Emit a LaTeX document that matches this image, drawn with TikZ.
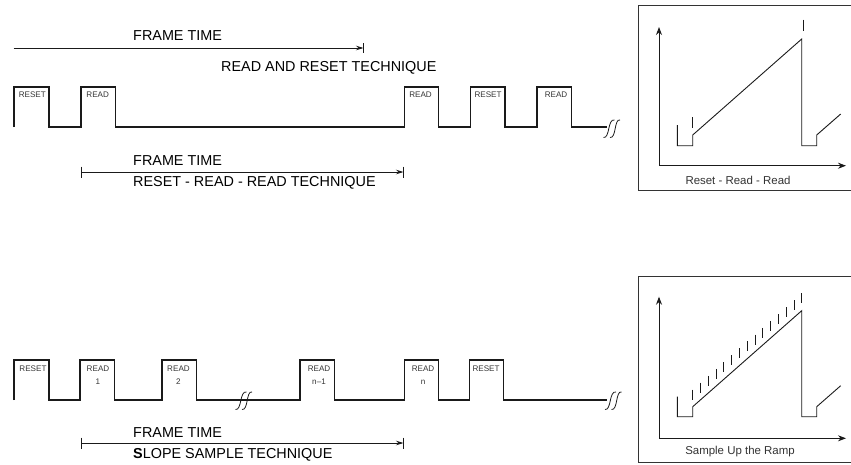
\documentclass[tikz,border=0pt]{standalone}
\usepackage{fontspec}
\setmainfont{Liberation Sans}
\usepackage{tikz}
\usetikzlibrary{arrows.meta,positioning,calc}
\definecolor{Wave}{HTML}{1A1A1A}
\definecolor{Frame}{HTML}{333333}
\tikzset{
  wave/.style={draw=Wave,line width=1.2pt,line join=miter},
  ramp/.style={draw=Wave,line width=0.9pt},
  tick/.style={draw=Wave,line width=0.9pt},
  span/.style={-{Stealth[length=7.5pt,width=4.5pt]},draw=Wave,line width=0.9pt},
  axis/.style={-{Stealth[length=8pt,width=6pt]},draw=Wave,line width=0.9pt},
  panel/.style={draw=Frame,line width=0.9pt},
  title/.style={font=\fontsize{14.4}{15}\selectfont,inner sep=0pt,anchor=west},
  pulse/.style={font=\fontsize{8.1}{9}\selectfont,text=Frame,inner sep=0pt},
  caption/.style={font=\fontsize{11.45}{13}\selectfont,text=Frame,inner sep=0pt}
}
\newcommand{\breakmark}[2]{
  \draw[tick,line width=0.8pt] (#1-7.5,#2+9) .. controls (#1-1,#2+10) and (#1-3.5,#2-10) .. (#1+3.5,#2-8.5);
  \draw[tick,line width=0.8pt] (#1-1,#2+9) .. controls (#1+5.5,#2+10) and (#1+3,#2-10) .. (#1+9,#2-8.5);
}
\begin{document}
\begin{tikzpicture}[x=1pt,y=-1pt]
  \useasboundingbox (0,0) rectangle (851,464);
  % top waveform
  \draw[wave] (14,127) |- (49,87) |- (81,127) |- (115.5,87) |- (404.5,127) |- (438.5,87) |- (470.5,127) |- (505,87) |- (537,127) |- (571.5,87) |- (606.5,127);
  \breakmark{611}{128.5}
  \node[pulse] (reseta) at (32.3,95) {RESET};
  \node[pulse] (reada) at (97.7,95) {READ};
  \node[pulse] (readb) at (420.5,95) {READ};
  \node[pulse] (resetb) at (488,95) {RESET};
  \node[pulse] (readc) at (556,95) {READ};
  % frame time arrows, top
  \coordinate (fa) at (13.5,48);
  \coordinate (fb) at (363.5,48);
  \draw[span] (fa) -- (fb);
  \draw[tick] ($(fb)+(0,-5)$) -- ($(fb)+(0,5)$);
  \node[title] (framea) at (133,35.5) {FRAME TIME};
  \node[title] (techa) at (221,68) {READ AND RESET TECHNIQUE};
  \coordinate (fc) at (81.5,172);
  \coordinate (fd) at (403.5,172);
  \draw[span] (fc) -- (fd);
  \draw[tick] ($(fc)+(0,-5.5)$) -- ($(fc)+(0,5.5)$);
  \draw[tick] ($(fd)+(0,-5.5)$) -- ($(fd)+(0,5.5)$);
  \node[title] (frameb) at (133,161) {FRAME TIME};
  \node[title] (techb) at (133,183) {RESET - READ - READ TECHNIQUE};
  % bottom waveform
  \draw[wave] (14,400) |- (49,360) |- (80,400) |- (114.5,360) |- (162,400) |- (196.5,360) |- (300,400) |- (334.5,360) |- (404.5,400) |- (438.5,360) |- (469.5,400) |- (503.5,360) |- (606.5,400);
  \breakmark{243}{400.5}
  \breakmark{612.5}{400.5}
  \node[pulse] (resetc) at (33,369) {RESET};
  \node[pulse] (readd) at (98,369) {READ};
  \node[pulse] at (98,382) {1};
  \node[pulse] (reade) at (178.5,369) {READ};
  \node[pulse] at (178.5,382) {2};
  \node[pulse] (readf) at (319,369) {READ};
  \node[pulse] at (319,382) {n--1};
  \node[pulse] (readg) at (423,369) {READ};
  \node[pulse] at (423,382) {n};
  \node[pulse] (resetd) at (486,369) {RESET};
  % frame time arrow, bottom
  \coordinate (fe) at (81.5,443);
  \coordinate (ff) at (403.5,443);
  \draw[span] (fe) -- (ff);
  \draw[tick] ($(fe)+(0,-5.5)$) -- ($(fe)+(0,5.5)$);
  \draw[tick] ($(ff)+(0,-5.5)$) -- ($(ff)+(0,5.5)$);
  \node[title] (framec) at (133,433) {FRAME TIME};
  \node[title] (techc) at (133,455) {\textbf{S}LOPE SAMPLE TECHNIQUE};
  % read and reset plot
  \draw[panel] (638.5,5) rectangle (853,190.5);
  \coordinate (oa) at (659,165.7);
  \draw[axis] (oa) -- (659,27);
  \draw[axis] (oa) -- (846,165.7);
  \draw[ramp] (677.3,125) |- (692.7,145.7) -- (692.7,135) -- (801.7,39) |- (816.7,145.7) -- (816.7,135) -- (840.7,114);
  \draw[tick] (692.7,117) -- (692.7,127.5);
  \draw[tick] (803,19.5) -- (803,30.5);
  \node[caption] (capa) at (738,180) {Reset - Read - Read};
  % sampled plot
  \draw[panel] (638.5,276.5) rectangle (853,462.5);
  \coordinate (ob) at (659,438.3);
  \draw[axis] (ob) -- (659,296.7);
  \draw[axis] (ob) -- (846,438.3);
  \draw[ramp] (677.3,396.7) |- (692.7,416.7) -- (692.7,406.7) -- (801.7,310.7) |- (816.7,416.7) -- (816.7,406.7) -- (840.7,385.7);
  \foreach \i in {0,...,14}
    \draw[tick] ({692.7+7.79*\i},{389.5-6.86*\i}) -- ({692.7+7.79*\i},{399.5-6.86*\i});
  \node[caption] (capb) at (740,452) {Sample Up the Ramp};
\end{tikzpicture}
\end{document}
